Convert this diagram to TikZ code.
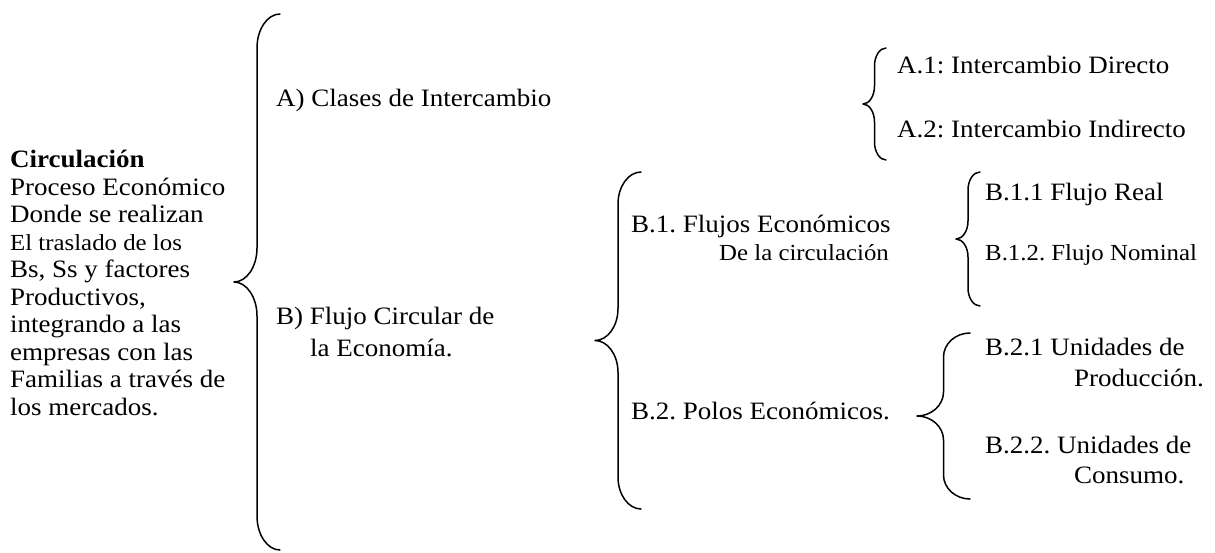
\documentclass[tikz,border=0pt]{standalone}
\usepackage{fontspec}
\setmainfont[FakeStretch=1.08]{Liberation Serif}
\usepackage{tikz}
\tikzstyle{trazo} = [line width=1.5pt, line join=round, line cap=round]
\tikzstyle{texto} = [anchor=base west, inner sep=0pt, align=left, font=\fontsize{25}{27.5}\selectfont\frenchspacing]
\newcommand{\chico}{\fontsize{23}{27.5}\selectfont}
% llave: x extremos, x punta, y arriba, y abajo, curva
\newcommand{\llave}[5]{%
\pgfmathsetmacro{\llm}{(#1+#2)/2}
\pgfmathsetmacro{\llc}{(#3+#4)/2}
\pgfmathsetmacro{\llw}{(#1-#2)/2}
\draw[trazo] (#1,#3) .. controls ({\llm+0.45*\llw},#3) and (\llm,{#3+0.45*#5}) .. (\llm,{#3+#5})
 -- (\llm,{\llc-#5}) .. controls (\llm,{\llc-0.45*#5}) and ({#2+0.55*\llw},\llc) .. (#2,\llc)
 .. controls ({#2+0.55*\llw},\llc) and (\llm,{\llc+0.45*#5}) .. (\llm,{\llc+#5})
 -- (\llm,{#4-#5}) .. controls (\llm,{#4-0.45*#5}) and ({\llm+0.45*\llw},#4) .. (#1,#4);
}
\begin{document}
\begin{tikzpicture}[x=1pt,y=-1pt]
\useasboundingbox (0,0) rectangle (1215,552);

% la base es la ultima linea
\node[texto] (circ) at (10,415) {\textbf{Circulación}\\
Proceso Económico\\
Donde se realizan\\
{\chico El traslado de los}\\
Bs, Ss y factores\\
Productivos,\\
integrando a las\\
empresas con las\\
Familias a través de\\
los mercados.};

\node[texto] (clases) at (276,106) {A) Clases de Intercambio};
\node[texto] (flujo) at (276,356) {B) Flujo Circular de\\[4pt]\hspace*{34pt}la Economía.};

\node[texto] (adir) at (897,73) {A.1: Intercambio Directo};
\node[texto] (aind) at (897,137) {A.2: Intercambio Indirecto};

\node[texto] (flujos) at (631,260) {B.1. Flujos Económicos\\\hspace*{88pt}{\chico De la circulación}};
\node[texto] (polos) at (631,419) {B.2. Polos Económicos.};

\node[texto] (freal) at (985,200) {B.1.1 Flujo Real};
\node[texto] (fnom) at (985,260) {\chico B.1.2. Flujo Nominal};

\node[texto] (uprod) at (985,386) {B.2.1 Unidades de\\[3pt]\hspace*{89pt}Producción.};
\node[texto] (ucons) at (985,483) {B.2.2. Unidades de\\[2pt]\hspace*{89pt}Consumo.};

\llave{280}{234}{14}{550}{34}
\llave{886}{863}{48}{160}{18}
\llave{641}{595}{172}{509}{32}
\llave{980}{956}{172}{306}{18}
\llave{970}{917}{333}{499}{24}
\end{tikzpicture}
\end{document}
